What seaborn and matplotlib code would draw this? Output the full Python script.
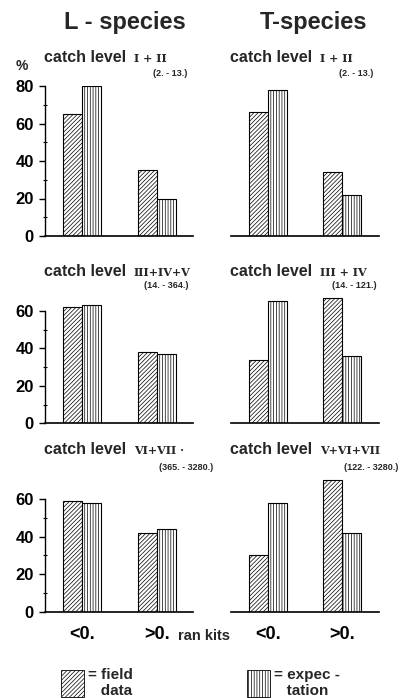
import matplotlib
matplotlib.use("Agg")
import matplotlib.pyplot as plt
import seaborn as sns
import pandas as pd
from matplotlib.patches import Patch
from matplotlib.ticker import FixedLocator

sns.set_theme(style="white")
plt.rcParams['font.family'] = ['Liberation Sans', 'DejaVu Sans']
plt.rcParams['hatch.linewidth'] = 0.5

# ---- data ----
categories = ["<0.", ">0."]
series = ["field data", "expectation"]
L_field = [[65, 35], [62, 38], [59, 42]]
L_expect = [[80, 20], [63, 37], [58, 44]]
T_field = [[66, 34], [34, 67], [30, 70]]
T_expect = [[78, 22], [65, 36], [58, 42]]
L_levels = ["I + II", "III+IV+V", "VI+VII ·"]
L_ranges = ["(2. - 13.)", "(14. - 364.)", "(365. - 3280.)"]
T_levels = ["I + II", "III + IV", "V+VI+VII"]
T_ranges = ["(2. - 13.)", "(14. - 121.)", "(122. - 3280.)"]
titles = ["L - species", "T-species"]

W, H = 404, 698
fig = plt.figure(figsize=(W / 100, H / 100), dpi=100)


def fx(px):
    return px / W


def fy(py):
    return 1 - py / H


hatches = ["////////", "||||||"]
baselines = [236, 423.3, 611.7]
scale = 1.875  # px per unit
axw = 148.3
lefts = [45, 230.5]

for r in range(3):
    for c in range(2):
        field = (L_field if c == 0 else T_field)[r]
        expect = (L_expect if c == 0 else T_expect)[r]
        df = pd.DataFrame({
            "category": categories * 2,
            "series": [series[0]] * 2 + [series[1]] * 2,
            "value": field + expect,
        })
        base = baselines[r]
        ax = fig.add_axes([fx(lefts[c]), fy(base), axw / W, 80 * scale / H])
        sns.barplot(data=df, x="category", y="value", hue="series",
                    hue_order=series, order=categories,
                    palette=["white", "white"], edgecolor="black",
                    linewidth=0.8, width=0.51, ax=ax, legend=False,
                    saturation=1)
        for cont, h in zip(ax.containers, hatches):
            for p in cont:
                p.set_hatch(h)
                p.set_edgecolor("black")
        ax.set_xlim(-0.5, 1.49)
        ax.set_ylim(0, 80)
        ax.set_facecolor("none")
        ax.set_xlabel("")
        ax.set_ylabel("")
        for s in ["top", "right"]:
            ax.spines[s].set_visible(False)
        ax.spines["bottom"].set_color("black")
        ax.spines["bottom"].set_linewidth(1.2)
        top = 80 if r == 0 else 60
        if c == 0:
            ax.spines["left"].set_color("black")
            ax.spines["left"].set_linewidth(1.0)
            ax.spines["left"].set_bounds(0, top)
            ax.yaxis.set_major_locator(FixedLocator(list(range(0, top + 1, 20))))
            ax.yaxis.set_minor_locator(FixedLocator(list(range(10, top, 20))))
            ax.tick_params(axis="y", which="major", left=True, length=4,
                           width=1, color="black", pad=4, labelsize=12,
                           labelcolor="black")
            ax.tick_params(axis="y", which="minor", left=True, length=2.5,
                           width=0.8, color="black", direction="inout")
            for t in ax.get_yticklabels():
                t.set_fontweight("bold")
        else:
            ax.spines["left"].set_visible(False)
            ax.set_yticks([])
        if r == 2:
            ax.tick_params(axis="x", length=0, pad=10, labelsize=13,
                           labelcolor="black")
            for t in ax.get_xticklabels():
                t.set_fontweight("bold")
        else:
            ax.set_xticks([])

# titles
fig.text(fx(125), fy(22), titles[0], ha="center", va="center",
         fontsize=17, fontweight="bold")
fig.text(fx(314), fy(22), titles[1], ha="center", va="center",
         fontsize=17, fontweight="bold")
fig.text(fx(22), fy(66), "%", ha="center", va="center",
         fontsize=10, fontweight="bold")

# panel labels
label_y = [58, 272, 450]
range_y = [73, 285, 468]
range_right = [[187, 373], [188, 377], [213, 398]]
for r in range(3):
    for c in range(2):
        x0 = [44, 230][c]
        lev = (L_levels if c == 0 else T_levels)[r]
        rng = (L_ranges if c == 0 else T_ranges)[r]
        fig.text(fx(x0), fy(label_y[r]), "catch level", ha="left",
                 va="center", fontsize=11.5, fontweight="bold")
        fig.text(fx(x0 + 90), fy(label_y[r]), lev, ha="left",
                 va="center", fontsize=8, fontweight="bold",
                 family="DejaVu Serif")
        fig.text(fx(range_right[r][c]), fy(range_y[r]), rng, ha="right",
                 va="center", fontsize=6.5, fontweight="bold")

fig.text(fx(204), fy(636), "ran kits", ha="center", va="center",
         fontsize=10.5, fontweight="bold")

# legend
for lab, h, x in [("= field\n   data", hatches[0], 61),
                  ("= expec -\n   tation", hatches[1], 247)]:
    handle = Patch(facecolor="white", edgecolor="black", hatch=h,
                   linewidth=0.6)
    fig.legend([handle], [lab], loc="lower left",
               bbox_to_anchor=(fx(x), 0.0), frameon=False,
               handlelength=1.5, handleheight=2.4, handletextpad=0.3,
               borderpad=0, borderaxespad=0,
               prop={"size": 11, "weight": "bold"})

fig.savefig("out.png", dpi=100)
